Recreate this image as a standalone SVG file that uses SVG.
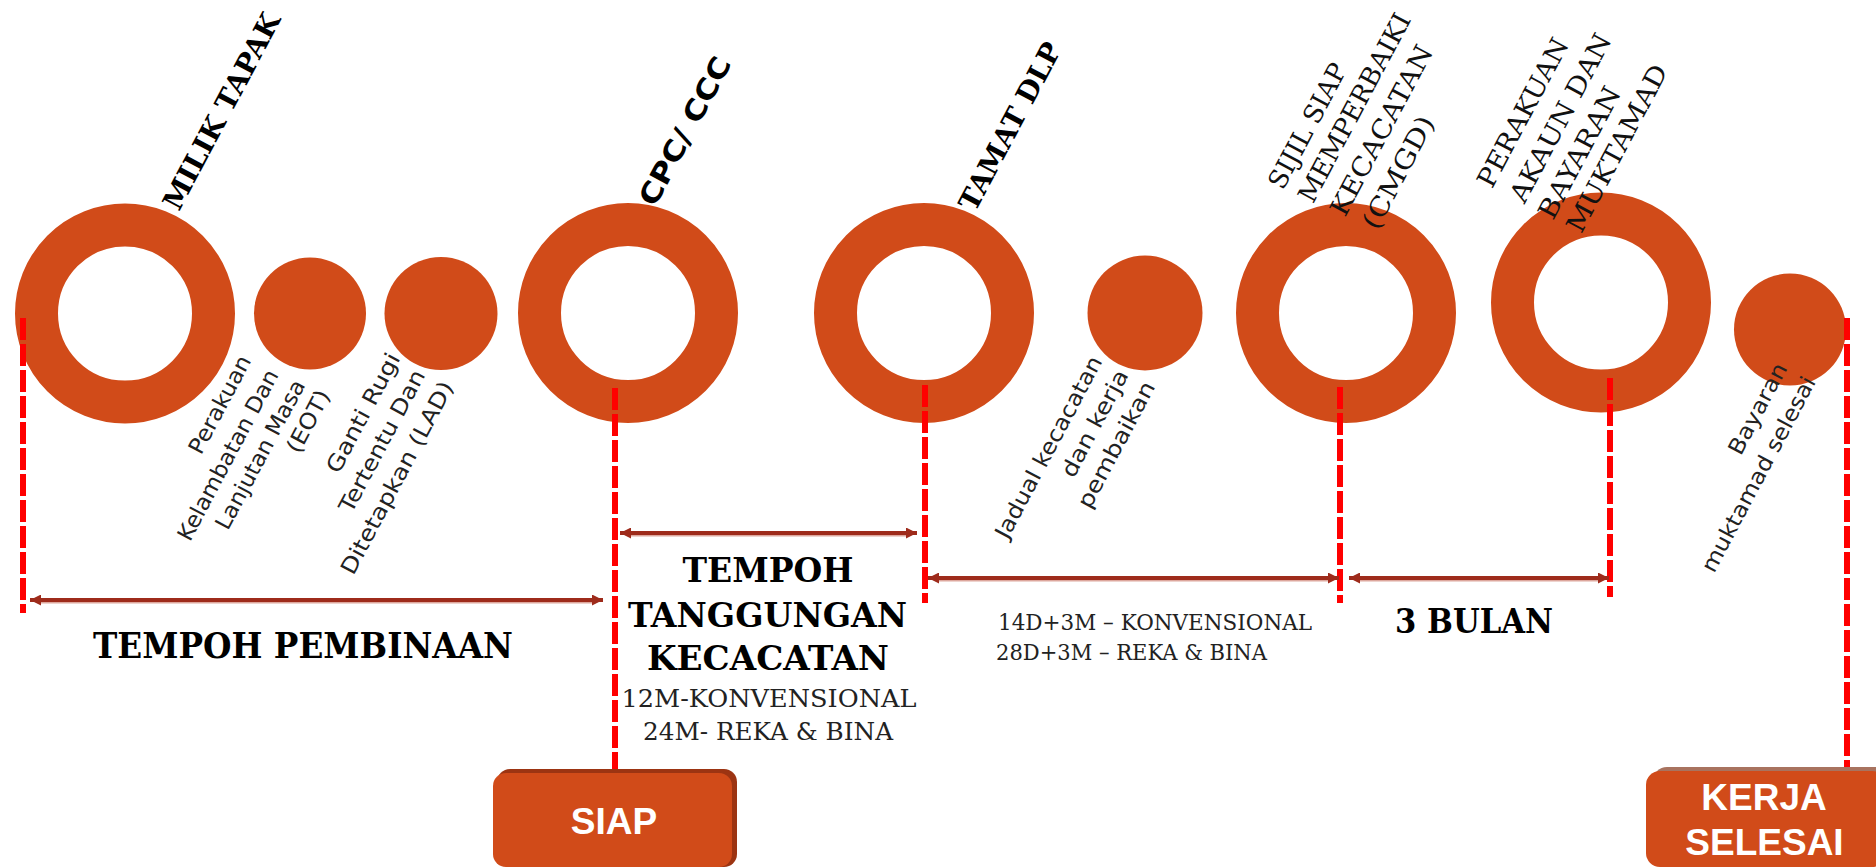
<svg xmlns="http://www.w3.org/2000/svg" width="1876" height="867" viewBox="0 0 1876 867">
<defs>
<marker id="ah" viewBox="0 0 10 10" refX="10" refY="5" markerWidth="11" markerHeight="11" markerUnits="userSpaceOnUse" orient="auto-start-reverse"><path d="M0,0 L10,5 L0,10 z" fill="#9E2B1B"/></marker>
</defs>
<style>
.ring{fill:none;stroke:#D14B19;stroke-width:43}
.dot{fill:#D14B19}
.cut{stroke:#FF0000;stroke-width:6;stroke-dasharray:22 4;fill:none}
.span{stroke:#9E2B1B;stroke-width:4;marker-start:url(#ah);marker-end:url(#ah)}
.shadow{stroke:#DDA79D;stroke-width:2}
.ms{font-family:"DejaVu Serif","Liberation Serif",serif;font-weight:bold;font-size:28px;fill:#000}
.mss{font-family:"DejaVu Sans","Liberation Sans",sans-serif;font-weight:bold;font-size:28px;fill:#000}
.ms2{font-family:"DejaVu Serif","Liberation Serif",serif;font-size:26px;fill:#111}
.note{font-family:"DejaVu Sans","Liberation Sans",sans-serif;font-size:22px;fill:#222;text-anchor:end}
.big{font-family:"DejaVu Serif","Liberation Serif",serif;font-weight:bold;fill:#000;text-anchor:middle}
.sub{font-family:"DejaVu Serif","Liberation Serif",serif;fill:#222}
.box{fill:#D14B19}
.btxt{font-family:"Liberation Sans",Arial,sans-serif;font-weight:bold;font-size:37px;fill:#fff;text-anchor:middle}
</style>
<rect width="1876" height="867" fill="#fff"/>

<g id="milik-tapak">
<circle class="ring" cx="125" cy="313.5" r="88.5"/>
<text class="ms" transform="translate(179,212) rotate(-62)" textLength="218" lengthAdjust="spacingAndGlyphs">MILIK TAPAK</text>
</g>
<g id="eot">
<circle class="dot" cx="310" cy="313.5" r="56"/>
<text class="note" transform="translate(251.8,360.4) rotate(-62)" textLength="108" lengthAdjust="spacingAndGlyphs">Perakuan</text>
<text class="note" transform="translate(279.1,374.8) rotate(-62)" textLength="190" lengthAdjust="spacingAndGlyphs">Kelambatan Dan</text>
<text class="note" transform="translate(305.8,384.8) rotate(-62)" textLength="166" lengthAdjust="spacingAndGlyphs">Lanjutan Masa</text>
<text class="note" transform="translate(330.8,394.8) rotate(-62)" textLength="68" lengthAdjust="spacingAndGlyphs">(EOT)</text>
</g>
<g id="lad">
<circle class="dot" cx="441" cy="313.5" r="56.5"/>
<text class="note" transform="translate(400.8,358.1) rotate(-62)" textLength="132" lengthAdjust="spacingAndGlyphs">Ganti Rugi</text>
<text class="note" transform="translate(425.8,374.8) rotate(-62)" textLength="158" lengthAdjust="spacingAndGlyphs">Tertentu Dan</text>
<text class="note" transform="translate(454.1,386.4) rotate(-62)" textLength="215" lengthAdjust="spacingAndGlyphs">Ditetapkan (LAD)</text>
</g>
<g id="cpc-ccc">
<circle class="ring" cx="628" cy="313" r="88.5"/>
<text class="mss" transform="translate(655,208) rotate(-62)" textLength="164" lengthAdjust="spacingAndGlyphs">CPC/ CCC</text>
</g>
<g id="tamat-dlp">
<circle class="ring" cx="924" cy="313" r="88.5"/>
<text class="ms" transform="translate(975,213) rotate(-62)" textLength="186" lengthAdjust="spacingAndGlyphs">TAMAT DLP</text>
</g>
<g id="jadual">
<circle class="dot" cx="1145" cy="313" r="57.5"/>
<text class="note" transform="translate(1102.8,361.1) rotate(-62)" textLength="203" lengthAdjust="spacingAndGlyphs">Jadual kecacatan</text>
<text class="note" transform="translate(1129.1,374.8) rotate(-62)" textLength="118" lengthAdjust="spacingAndGlyphs">dan kerja</text>
<text class="note" transform="translate(1155.8,386.4) rotate(-62)" textLength="140" lengthAdjust="spacingAndGlyphs">pembaikan</text>
</g>
<g id="cmgd">
<circle class="ring" cx="1346" cy="313" r="88.5"/>
<text class="ms2" transform="translate(1283,191) rotate(-62)" textLength="138" lengthAdjust="spacingAndGlyphs">SIJIL SIAP</text>
<text class="ms2" transform="translate(1313,204.6) rotate(-62)" textLength="210" lengthAdjust="spacingAndGlyphs">MEMPERBAIKI</text>
<text class="ms2" transform="translate(1345,218) rotate(-62)" textLength="189" lengthAdjust="spacingAndGlyphs">KECACATAN</text>
<text class="ms2" transform="translate(1377,231.3) rotate(-62)" textLength="124" lengthAdjust="spacingAndGlyphs">(CMGD)</text>
</g>
<g id="akaun-muktamad">
<circle class="ring" cx="1601" cy="302.5" r="88.5"/>
<text class="ms2" transform="translate(1492,189.6) rotate(-62)" textLength="165" lengthAdjust="spacingAndGlyphs">PERAKUAN</text>
<text class="ms2" transform="translate(1524.5,204.6) rotate(-62)" textLength="187" lengthAdjust="spacingAndGlyphs">AKAUN DAN</text>
<text class="ms2" transform="translate(1553,221.3) rotate(-62)" textLength="146" lengthAdjust="spacingAndGlyphs">BAYARAN</text>
<text class="ms2" transform="translate(1581.3,234.6) rotate(-62)" textLength="186" lengthAdjust="spacingAndGlyphs">MUKTAMAD</text>
</g>
<g id="bayaran">
<circle class="dot" cx="1790" cy="329.5" r="56"/>
<text class="note" transform="translate(1787.8,368.1) rotate(-62)" textLength="100" lengthAdjust="spacingAndGlyphs">Bayaran</text>
<text class="note" transform="translate(1816.3,381.6) rotate(-62)" textLength="218" lengthAdjust="spacingAndGlyphs">muktamad selesai</text>
</g>

<g id="connectors">
<line class="cut" x1="23" y1="318" x2="23" y2="613"/>
<line class="cut" x1="615" y1="388" x2="615" y2="771"/>
<line class="cut" x1="925" y1="385" x2="925" y2="603"/>
<line class="cut" x1="1340" y1="387" x2="1340" y2="603"/>
<line class="cut" x1="1610" y1="378" x2="1610" y2="597"/>
<line class="cut" x1="1847" y1="318" x2="1847" y2="769"/>
<line class="shadow" x1="40" y1="602.5" x2="594" y2="602.5"/>
<line class="shadow" x1="630" y1="535.5" x2="908" y2="535.5"/>
<line class="shadow" x1="938" y1="580.5" x2="1330" y2="580.5"/>
<line class="shadow" x1="1359" y1="580.5" x2="1600" y2="580.5"/>
<line class="span" x1="30" y1="600" x2="603" y2="600"/>
<line class="span" x1="620" y1="533" x2="917" y2="533"/>
<line class="span" x1="928" y1="578" x2="1339" y2="578"/>
<line class="span" x1="1349" y1="578" x2="1609" y2="578"/>
</g>

<g id="tempoh-pembinaan">
<text class="big" x="303" y="658" font-size="36" textLength="420" lengthAdjust="spacingAndGlyphs">TEMPOH PEMBINAAN</text>
</g>
<g id="tempoh-tanggungan">
<text class="big" x="768" y="582" font-size="33" textLength="171" lengthAdjust="spacingAndGlyphs">TEMPOH</text>
<text class="big" x="767.5" y="627" font-size="33" textLength="279" lengthAdjust="spacingAndGlyphs">TANGGUNGAN</text>
<text class="big" x="768" y="670" font-size="33" textLength="242" lengthAdjust="spacingAndGlyphs">KECACATAN</text>
<text class="sub" x="769" y="707" font-size="25" text-anchor="middle" textLength="295" lengthAdjust="spacingAndGlyphs">12M-KONVENSIONAL</text>
<text class="sub" x="768" y="740" font-size="25" text-anchor="middle" textLength="250" lengthAdjust="spacingAndGlyphs">24M- REKA &amp; BINA</text>
</g>
<g id="tempoh-cmgd">
<text class="sub" x="998" y="630" font-size="22" textLength="314" lengthAdjust="spacingAndGlyphs">14D+3M – KONVENSIONAL</text>
<text class="sub" x="996" y="660" font-size="22" textLength="271" lengthAdjust="spacingAndGlyphs">28D+3M – REKA &amp; BINA</text>
</g>
<g id="tiga-bulan">
<text class="big" x="1474" y="633" font-size="34" textLength="158" lengthAdjust="spacingAndGlyphs">3 BULAN</text>
</g>

<g id="siap">
<rect x="497" y="769" width="240" height="98" rx="13" fill="#9C3412"/>
<rect class="box" x="493" y="773" width="239" height="94" rx="13"/>
<text class="btxt" x="614" y="834">SIAP</text>
</g>
<g id="kerja-selesai">
<rect x="1653" y="767" width="240" height="96" rx="14" fill="#A8735F"/>
<rect class="box" x="1646" y="771" width="240" height="96" rx="14"/>
<text class="btxt" x="1764" y="810">KERJA</text>
<text class="btxt" x="1764.5" y="855">SELESAI</text>
</g>
</svg>
